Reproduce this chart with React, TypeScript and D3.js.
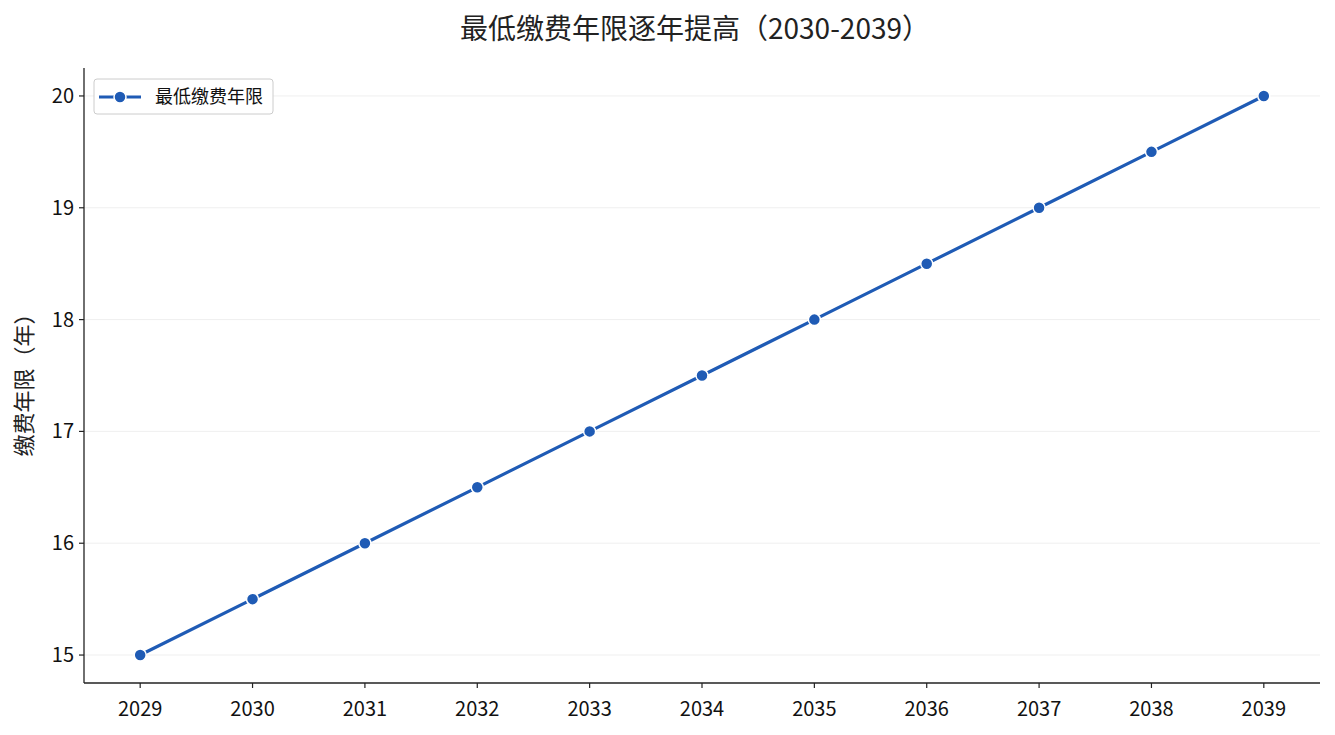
import React from 'react';
import * as d3 from 'd3';

const years = [2029, 2030, 2031, 2032, 2033, 2034, 2035, 2036, 2037, 2038, 2039];
const minYears = [15, 15.5, 16, 16.5, 17, 17.5, 18, 18.5, 19, 19.5, 20];
const yTicks = [15, 16, 17, 18, 19, 20];

const FONT = '"Noto Sans CJK SC", "Noto Sans", sans-serif';
const COLOR = '#1f5bb5';

const App: React.FC = () => {
  const width = 1335;
  const height = 735;
  const margin = { top: 68, right: 15, bottom: 52, left: 84 };

  const x = d3.scaleLinear().domain([2028.5, 2039.5]).range([margin.left, width - margin.right]);
  const y = d3.scaleLinear().domain([14.75, 20.25]).range([height - margin.bottom, margin.top]);

  const pts = years.map((yr, i) => ({ yr, v: minYears[i] }));
  const line = d3.line<{ yr: number; v: number }>().x(d => x(d.yr)).y(d => y(d.v));

  const x0 = margin.left;
  const x1 = width - margin.right;
  const y0 = height - margin.bottom;
  const y1 = margin.top;

  return (
    <svg width={width} height={height} style={{ position: 'absolute', left: 0, top: 0, background: '#fff' }} fontFamily={FONT}>
      <text x={695} y={39} textAnchor="middle" fontSize={28} fill="#222">
        最低缴费年限逐年提高（2030-2039）
      </text>

      {/* grid */}
      {yTicks.map(t => (
        <line key={t} x1={x0} x2={x1} y1={y(t)} y2={y(t)} stroke="#ebebeb" strokeWidth={0.8} />
      ))}

      {/* spines */}
      <line x1={x0} x2={x0} y1={y1} y2={y0} stroke="#222" strokeWidth={1.3} />
      <line x1={x0} x2={x1} y1={y0} y2={y0} stroke="#222" strokeWidth={1.3} />

      {/* y ticks */}
      {yTicks.map(t => (
        <g key={t}>
          <line x1={x0 - 5} x2={x0} y1={y(t)} y2={y(t)} stroke="#222" strokeWidth={1.2} />
          <text x={x0 - 10} y={y(t)} dy="0.35em" textAnchor="end" fontSize={20} fill="#111">{t}</text>
        </g>
      ))}

      {/* x ticks */}
      {years.map(yr => (
        <g key={yr}>
          <line x1={x(yr)} x2={x(yr)} y1={y0} y2={y0 + 5} stroke="#222" strokeWidth={1.2} />
          <text x={x(yr)} y={y0 + 33} textAnchor="middle" fontSize={20} fill="#111">{yr}</text>
        </g>
      ))}

      <text transform={`translate(32, ${(y0 + y1) / 2 + 4}) rotate(-90)`} textAnchor="middle" fontSize={22} fill="#222">
        缴费年限（年）
      </text>

      <path d={line(pts) ?? ''} fill="none" stroke={COLOR} strokeWidth={3.2} />
      {pts.map(p => (
        <circle key={p.yr} cx={x(p.yr)} cy={y(p.v)} r={6} fill={COLOR} stroke="#fff" strokeWidth={1.5} />
      ))}

      {/* legend */}
      <g>
        <rect x={94} y={79} width={179} height={35} rx={3} fill="#fff" stroke="#ccc" strokeWidth={1} />
        <line x1={99} x2={141} y1={97} y2={97} stroke={COLOR} strokeWidth={3.2} />
        <circle cx={120} cy={97} r={6} fill={COLOR} stroke="#fff" strokeWidth={1.5} />
        <text x={155} y={97} dy="0.35em" fontSize={18} fill="#111">最低缴费年限</text>
      </g>
    </svg>
  );
};

export default App;
